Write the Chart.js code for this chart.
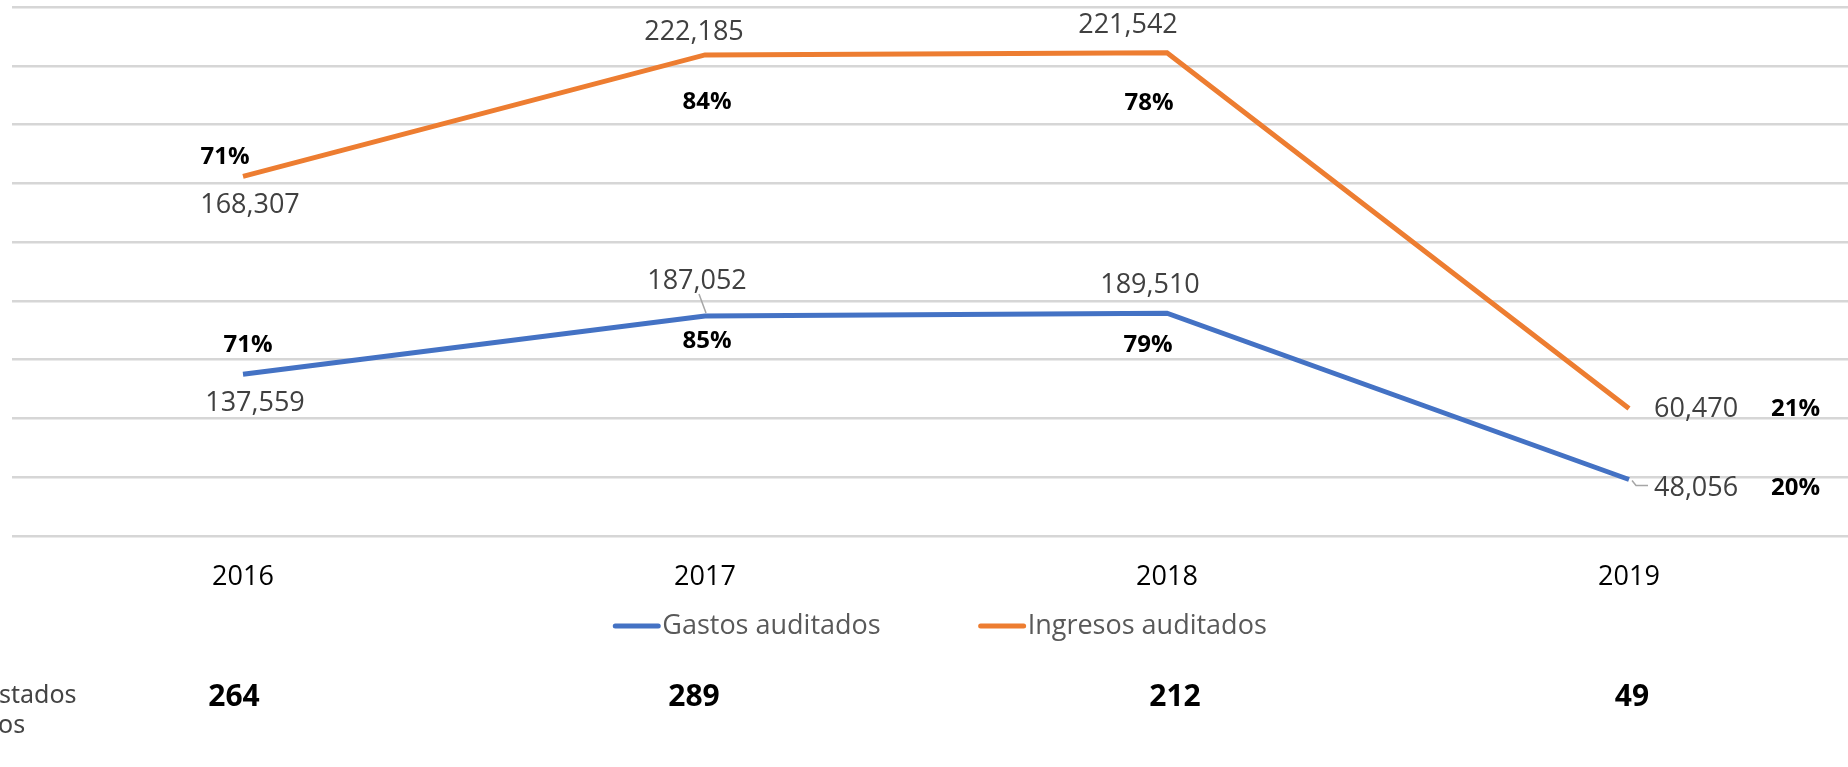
<!DOCTYPE html>
<html lang="es">
<head>
<meta charset="utf-8">
<title>Gastos e ingresos auditados</title>
<script src="https://cdn.jsdelivr.net/npm/chart.js@4.4.1/dist/chart.umd.min.js"></script>
<style>
  html, body { margin: 0; padding: 0; background: #fff; overflow: hidden; }
  #wrap { position: relative; width: 1860px; height: 767px; }
</style>
</head>
<body>
<div id="wrap"><canvas id="auditChart" width="1860" height="767"></canvas></div>
<script>
const years = ["2016", "2017", "2018", "2019"];
const gastos = [137559, 187052, 189510, 48056];
const ingresos = [168307, 222185, 221542, 60470];
const gastosPct = [71, 85, 79, 20];
const ingresosPct = [71, 84, 78, 21];
const estados = [264, 289, 212, 49];
const sideText = ["stados", "os"];

; ((Chart) => {
  "use strict";

  const FONT = '"Open Sans", "Noto Sans", sans-serif';

  // label placement relative to each point: [dx, dy, align]
  const valuePos = [
    [[12, 29, "center"], [-8, -35, "center"], [-17, -28, "center"], [25, 9, "left"]],
    [[7, 29, "center"], [-11, -23, "center"], [-39, -27, "center"], [25, 1, "left"]]
  ];
  const pctPos = [
    [[5, -29, "center"], [2, 25, "center"], [-19, 32, "center"], [142, 9, "left"]],
    [[-18, -19, "center"], [2, 47, "center"], [-18, 50, "center"], [142, 1, "left"]]
  ];
  const countShift = [-9, -11, 8, 3];

  const fmt = (v) => v.toLocaleString("en-US");

  const labelsPlugin = {
    id: "auditLabels",
    afterDatasetsDraw(chart) {
      const ctx = chart.ctx;
      const pcts = [gastosPct, ingresosPct];
      ctx.save();
      ctx.textBaseline = "middle";

      chart.data.datasets.forEach((ds, di) => {
        const meta = chart.getDatasetMeta(di);
        meta.data.forEach((pt, i) => {
          const vp = valuePos[di][i];
          ctx.font = "27px " + FONT;
          ctx.fillStyle = "#404040";
          ctx.textAlign = vp[2];
          ctx.fillText(fmt(ds.data[i]), pt.x + vp[0], pt.y + vp[1]);

          const pp = pctPos[di][i];
          ctx.font = "bold 24px " + FONT;
          ctx.fillStyle = "#000";
          ctx.textAlign = pp[2];
          ctx.fillText(pcts[di][i] + "%", pt.x + pp[0], pt.y + pp[1]);
        });
      });

      // leader lines of the blue labels
      const blue = chart.getDatasetMeta(0).data;
      ctx.strokeStyle = "#a6a6a6";
      ctx.lineWidth = 1.5;
      ctx.beginPath();
      ctx.moveTo(blue[1].x - 6, blue[1].y - 22);
      ctx.lineTo(blue[1].x + 1, blue[1].y - 3);
      ctx.moveTo(blue[3].x + 3, blue[3].y + 1);
      ctx.lineTo(blue[3].x + 7, blue[3].y + 6);
      ctx.lineTo(blue[3].x + 19, blue[3].y + 6);
      ctx.stroke();
      ctx.restore();
    },
    afterDraw(chart) {
      const ctx = chart.ctx;
      const xs = chart.scales.x;
      ctx.save();
      ctx.textBaseline = "middle";

      // legend
      const legendY = 626;
      ctx.font = "27px " + FONT;
      const items = chart.data.datasets.map((ds) => ({
        label: ds.label,
        color: ds.borderColor,
        w: ctx.measureText(ds.label).width
      }));
      const lineW = 43, gap = 4, itemGap = 100;
      const total = items.reduce((s, it) => s + lineW + gap + it.w, 0) + itemGap * (items.length - 1);
      let x = 941 - total / 2;
      items.forEach((it) => {
        ctx.strokeStyle = it.color;
        ctx.lineWidth = 5;
        ctx.lineCap = "round";
        ctx.beginPath();
        ctx.moveTo(x, legendY);
        ctx.lineTo(x + lineW, legendY);
        ctx.stroke();
        ctx.fillStyle = "#595959";
        ctx.textAlign = "left";
        ctx.fillText(it.label, x + lineW + gap, legendY);
        x += lineW + gap + it.w + itemGap;
      });

      // counts row
      ctx.font = "bold 30px " + FONT;
      ctx.fillStyle = "#000";
      ctx.textAlign = "center";
      estados.forEach((n, i) => {
        ctx.fillText(String(n), xs.getPixelForValue(i) + countShift[i], 697);
      });

      // side caption, cut at the left edge
      ctx.font = '25px "Noto Sans", sans-serif';
      ctx.fillStyle = "#444";
      ctx.textAlign = "left";
      ctx.fillText(sideText[0], -1, 696);
      ctx.fillText(sideText[1], -2, 726);
      ctx.restore();
    }
  };

  const ctx = document.getElementById("auditChart").getContext("2d");

  new Chart(ctx, {
    type: "line",
    data: {
      labels: years,
      datasets: [
        {
          label: "Gastos auditados",
          data: gastos,
          borderColor: "#4472C4",
          backgroundColor: "#4472C4",
          borderWidth: 5,
          pointRadius: 0,
          tension: 0,
          fill: false
        },
        {
          label: "Ingresos auditados",
          data: ingresos,
          borderColor: "#ED7D31",
          backgroundColor: "#ED7D31",
          borderWidth: 5,
          pointRadius: 0,
          tension: 0,
          fill: false
        }
      ]
    },
    options: {
      responsive: false,
      animation: false,
      events: [],
      layout: {
        padding: { top: 7, left: 12, right: 0, bottom: 0 }
      },
      plugins: {
        legend: { display: false },
        tooltip: { enabled: false }
      },
      scales: {
        x: {
          offset: true,
          grid: { display: false, drawTicks: false },
          border: { display: false },
          ticks: {
            color: "#000",
            padding: 25,
            maxRotation: 0,
            font: { family: FONT, size: 27 }
          },
          afterFit: (s) => { s.height = 231; }
        },
        y: {
          stacked: true,
          min: 0,
          max: 450000,
          grid: { color: "#d6d6d6", lineWidth: 2.5, drawTicks: false },
          border: { display: false },
          ticks: { display: false, stepSize: 50000 },
          afterFit: (s) => { s.width = 0; }
        }
      }
    },
    plugins: [labelsPlugin]
  });

})(Chart);
</script>
</body>
</html>
